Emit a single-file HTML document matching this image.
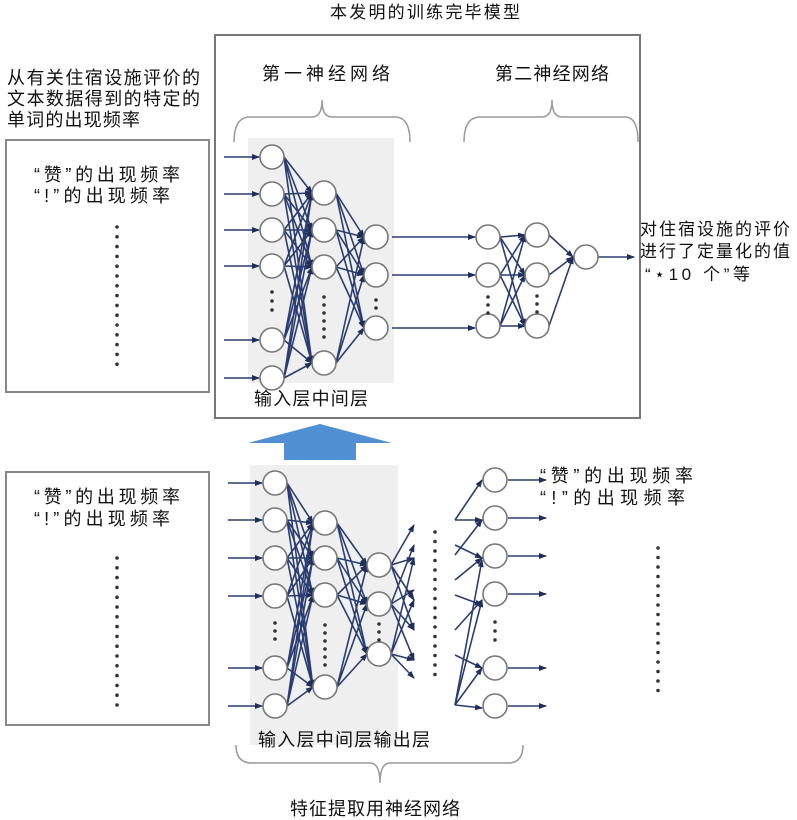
<!DOCTYPE html>
<html><head><meta charset="utf-8">
<style>
html,body{margin:0;padding:0;background:#fff;}
svg{display:block;}
text{font-family:"Liberation Sans","Noto Sans CJK SC",sans-serif;fill:#111;}
</style></head>
<body>
<svg id="s" width="797" height="820" viewBox="0 0 797 820" xmlns="http://www.w3.org/2000/svg">
<defs>
<marker id="a" markerWidth="8" markerHeight="8" refX="7" refY="4" orient="auto" markerUnits="userSpaceOnUse">
<path d="M0,1 L8,4 L0,7 z" fill="#1f2f5c"/></marker>
</defs>
<rect width="797" height="820" fill="#fff"/>
<text x="330" y="18" font-size="17" textLength="190" lengthAdjust="spacing">本发明的训练完毕模型</text>
<rect x="215" y="35" width="425" height="383" fill="none" stroke="#777" stroke-width="2"/>
<text x="7" y="84" font-size="18" textLength="193" lengthAdjust="spacing">从有关住宿设施评价的</text>
<text x="7" y="105" font-size="18" textLength="193" lengthAdjust="spacing">文本数据得到的特定的</text>
<text x="7" y="126" font-size="18" textLength="133" lengthAdjust="spacing">单词的出现频率</text>
<rect x="6" y="140" width="203" height="252" fill="none" stroke="#888" stroke-width="2"/>
<text x="34" y="181" font-size="18" textLength="146" lengthAdjust="spacing">“赞”的出现频率</text>
<text x="34" y="202" font-size="18" textLength="136" lengthAdjust="spacing">“!”的出现频率</text>
<rect x="6" y="472" width="203" height="253" fill="none" stroke="#888" stroke-width="2"/>
<text x="34" y="503" font-size="18" textLength="146" lengthAdjust="spacing">“赞”的出现频率</text>
<text x="34" y="525" font-size="18" textLength="136" lengthAdjust="spacing">“!”的出现频率</text>
<text x="262" y="80" font-size="18" textLength="128" lengthAdjust="spacing">第一神经网络</text>
<text x="495" y="80" font-size="18" textLength="114" lengthAdjust="spacing">第二神经网络</text>
<path d="M234,142 Q234,117 250,117 L312,117 Q322,117 322,100 Q322,117 332,117 L395,117 Q410,117 410,142" fill="none" stroke="#999" stroke-width="1.5"/>
<path d="M464,142 Q464,117 480,117 L542,117 Q552,117 552,100 Q552,117 562,117 L625,117 Q638,117 638,142" fill="none" stroke="#999" stroke-width="1.5"/>
<path d="M236,745 Q236,763 252,763 L370,763 Q380,763 380,783 Q380,763 390,763 L508,763 Q523,763 523,745" fill="none" stroke="#999" stroke-width="1.5"/>
<rect x="248" y="138" width="146" height="245" fill="#efefef"/>
<rect x="250" y="465" width="148" height="280" fill="#efefef"/>
<polygon points="320,424 392,443 356,443 356,460 284,460 284,443 248,443" fill="#4f8fd2"/>
<g id="g"></g>
<text x="254" y="405" font-size="18" textLength="114" lengthAdjust="spacing">输入层中间层</text>
<text x="258" y="746" font-size="18" textLength="172" lengthAdjust="spacing">输入层中间层输出层</text>
<text x="290" y="815" font-size="18" textLength="170" lengthAdjust="spacing">特征提取用神经网络</text>
<text x="640" y="235" font-size="17" textLength="150" lengthAdjust="spacing">对住宿设施的评价</text>
<text x="640" y="257" font-size="17" textLength="150" lengthAdjust="spacing">进行了定量化的值</text>
<text x="645" y="280" font-size="17" textLength="105" lengthAdjust="spacing">“⋆10 个”等</text>
<text x="540" y="482" font-size="18" textLength="153" lengthAdjust="spacing">“赞”的出现频率</text>
<text x="540" y="504" font-size="18" textLength="145" lengthAdjust="spacing">“!”的出现频率</text>
</svg>
<script>
var g=document.getElementById('g'),out='';
function L(x1,y1,x2,y2,ar){out+='<line x1="'+x1+'" y1="'+y1+'" x2="'+x2+'" y2="'+y2+'" stroke="#2a3d72" stroke-width="1.6"'+(ar?' marker-end="url(#a)"':'')+'/>';}
function C(x,y){out+='<circle cx="'+x+'" cy="'+y+'" r="12" fill="#fff" stroke="#777" stroke-width="1.6"/>';}
function D(x,y1,y2,st){for(var y=y1;y<=y2;y+=st)out+='<circle cx="'+x+'" cy="'+y+'" r="1.8" fill="#333"/>';}
function full(A,ax,B,bx){A.forEach(function(a){B.forEach(function(b){L(ax+12,a,bx-12,b,1);});});}
var t1=[157,194,230,266,340,378],t2=[193,230,267,363],t3=[237,275,328];
t1.forEach(function(y){L(224,y,259,y,1);});
full(t1,272,t2,324);full(t2,324,t3,376);
t3.forEach(function(y){L(392,y,475,y,1);});
var t4=[237,275,326],t5=[235,275,326];
full(t4,488,t5,537);
t5.forEach(function(y){L(549,y,573,257,1);});
L(598,257,634,257,1);
t1.forEach(function(y){C(272,y)});t2.forEach(function(y){C(324,y)});t3.forEach(function(y){C(376,y)});
t4.forEach(function(y){C(488,y)});t5.forEach(function(y){C(537,y)});C(586,257);
D(272,292,318,9);D(324,297,340,8);D(376,300,315,8);D(488,297,315,8);D(537,296,314,8);
D(117,227,372,9.8);
var b1=[483,520,558,596,668,706],b2=[523,558,595,687],b3=[565,604,654];
b1.forEach(function(y){L(228,y,262,y,1);});
full(b1,275,b2,325);full(b2,325,b3,379);
var ot=[525,545,558,590,600,630,660,678];
b3.forEach(function(y,i){[ot[i],ot[i+2],ot[i+4],ot[i+5]].forEach(function(o){L(391,y,414,o,1);});});
var b5=[480,518,556,594,668,706];
L(455,520,482,480,1);L(455,520,482,520,1);L(455,545,482,558,1);L(455,555,482,520,1);
L(455,580,482,558,1);L(455,595,482,605,1);L(455,630,482,600,1);L(455,655,482,668,1);
L(455,705,482,560,1);L(455,705,482,600,1);L(455,705,482,668,1);L(455,705,482,708,1);
b5.forEach(function(y){L(508,y,546,y,1);});
b1.forEach(function(y){C(275,y)});b2.forEach(function(y){C(325,y)});b3.forEach(function(y){C(379,y)});b5.forEach(function(y){C(495,y)});
D(275,623,643,8);D(325,625,665,8);D(379,624,640,8);D(495,622,642,9);
D(435,532,680,9.5);D(658,548,695,9.5);D(117,558,705,9.8);
g.innerHTML=out;
</script>
</body></html>
